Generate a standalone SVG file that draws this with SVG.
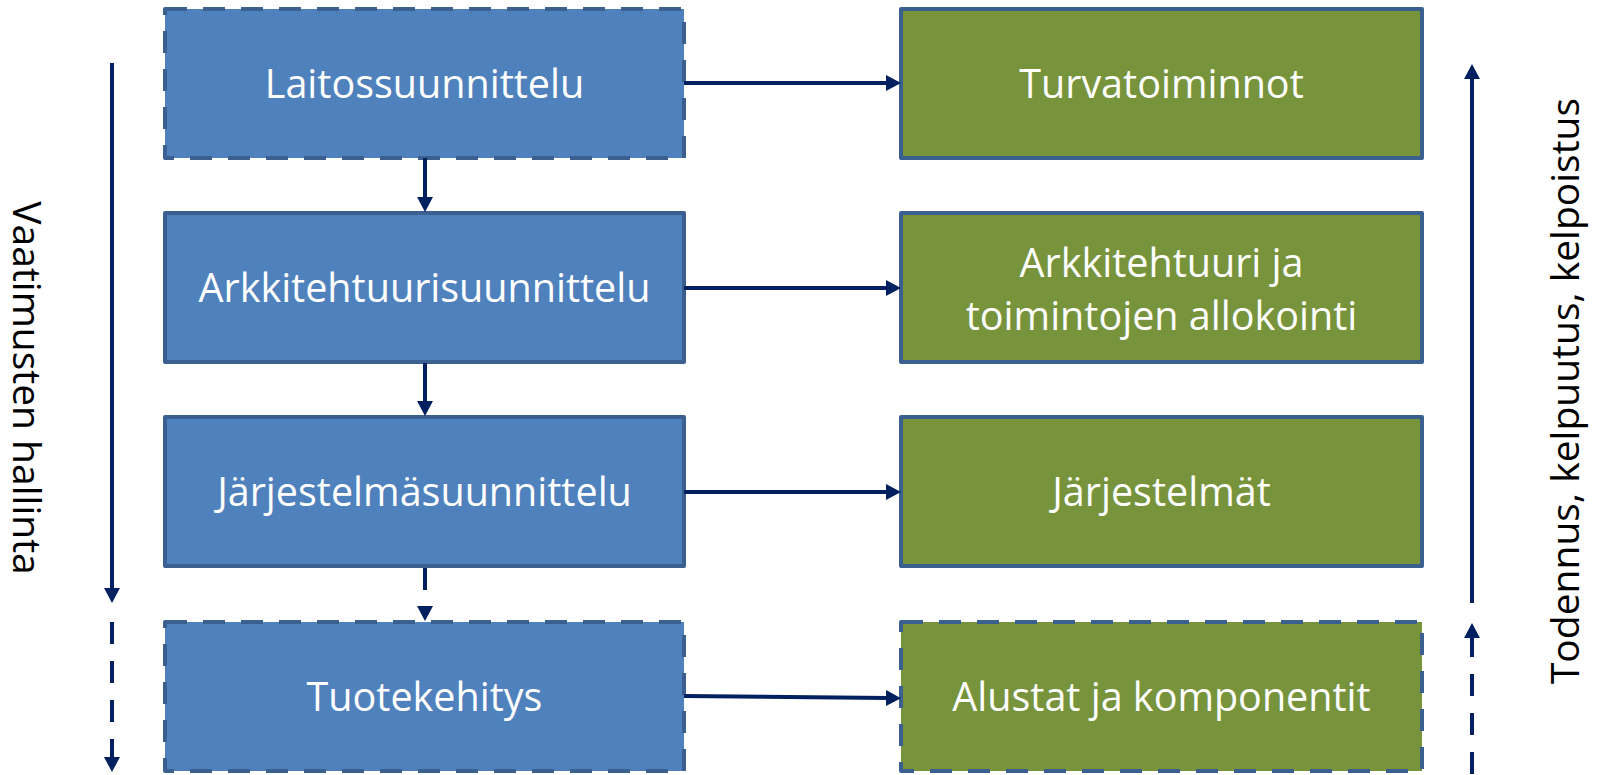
<svg xmlns="http://www.w3.org/2000/svg" width="1598" height="775" viewBox="0 0 1598 775">
  <style>
    .box { stroke: #3B5F8E; stroke-width: 4; stroke-linejoin: round; }
    .blue { fill: #4F81BD; }
    .green { fill: #77933C; }
    .dashed { stroke-dasharray: 22 16; }
    .label { font-family: "Open Sans", "Noto Sans", sans-serif; font-size: 39.5px; fill: #FFFFFF; text-anchor: middle; }
    .side { font-family: "Open Sans", "Noto Sans", sans-serif; font-size: 39px; fill: #000000; text-anchor: middle; }
    .link { stroke: #002060; stroke-width: 4; fill: none; marker-end: url(#head); }
    .link-dash { stroke-dasharray: 22 17; }
  </style>
  <defs>
    <marker id="head" markerUnits="userSpaceOnUse" markerWidth="16" markerHeight="17" refX="2" refY="8" orient="auto">
      <path d="M0,0 L15,8 L0,16 z" fill="#002060"/>
    </marker>
  </defs>

  <rect width="1598" height="775" fill="#FFFFFF"/>

  <!-- design chain (left column) -->
  <g id="laitossuunnittelu">
    <rect class="box blue dashed" x="165" y="9" width="519" height="149"/>
    <text class="label" x="424.5" y="98">Laitossuunnittelu</text>
  </g>
  <g id="arkkitehtuurisuunnittelu">
    <rect class="box blue" x="165" y="213" width="519" height="149"/>
    <text class="label" x="424.5" y="302">Arkkitehtuurisuunnittelu</text>
  </g>
  <g id="jarjestelmasuunnittelu">
    <rect class="box blue" x="165" y="417" width="519" height="149"/>
    <text class="label" x="424.5" y="506">Järjestelmäsuunnittelu</text>
  </g>
  <g id="tuotekehitys">
    <rect class="box blue dashed" x="165" y="622" width="519" height="149"/>
    <text class="label" x="424.5" y="711">Tuotekehitys</text>
  </g>

  <!-- results (right column) -->
  <g id="turvatoiminnot">
    <rect class="box green" x="901" y="9" width="521" height="149"/>
    <text class="label" x="1161.5" y="98">Turvatoiminnot</text>
  </g>
  <g id="arkkitehtuuri">
    <rect class="box green" x="901" y="213" width="521" height="149"/>
    <text class="label" x="1161.5" y="277">Arkkitehtuuri ja</text>
    <text class="label" x="1161.5" y="330">toimintojen allokointi</text>
  </g>
  <g id="jarjestelmat">
    <rect class="box green" x="901" y="417" width="521" height="149"/>
    <text class="label" x="1161.5" y="506">Järjestelmät</text>
  </g>
  <g id="alustat">
    <rect class="box green dashed" x="901" y="622" width="521" height="149"/>
    <text class="label" x="1161.5" y="711">Alustat ja komponentit</text>
  </g>

  <!-- side captions -->
  <g id="vaatimusten-hallinta">
    <text class="side" transform="translate(13,388) rotate(90)">Vaatimusten hallinta</text>
  </g>
  <g id="todennus">
    <text class="side" transform="translate(1579,391) rotate(-90)">Todennus, kelpuutus, kelpoistus</text>
  </g>

  <!-- connectors -->
  <g id="connectors">
    <path class="link" d="M684,83 L888,83"/>
    <path class="link" d="M684,288 L888,288"/>
    <path class="link" d="M684,492 L888,492"/>
    <path class="link" d="M684,696 L888,698"/>

    <path class="link" d="M425,158 L425,199"/>
    <path class="link" d="M425,363 L425,403"/>
    <path class="link link-dash" d="M425,568 L425,608"/>

    <path class="link" d="M112,63 L112,590"/>
    <path class="link link-dash" d="M112,622 L112,759"/>

    <path class="link" d="M1472,603 L1472,77"/>
    <path class="link link-dash" d="M1472,774 L1472,636"/>
  </g>
</svg>
